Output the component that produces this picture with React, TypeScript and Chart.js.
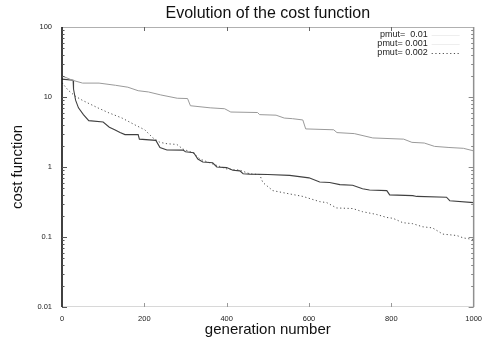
import React, { useEffect, useRef } from "react";
import { Chart, registerables } from "chart.js";

Chart.register(...registerables);

const TITLE = "Evolution of the cost function";
const X_TITLE = "generation number";
const Y_TITLE = "cost function";

const yTickValues = [0.01, 0.1, 1, 10, 100];
const xTickValues = [0, 200, 400, 600, 800, 1000];

const legendLabels = ["pmut=  0.01", "pmut= 0.001", "pmut= 0.002"];

// pmut = 0.01 (upper curve)
const genA = [0, 25, 50, 90, 130, 160, 185, 210, 240, 280, 305, 312, 360, 395, 410, 475, 480, 520, 540, 560, 585, 592, 660, 668, 710, 755, 830, 850, 880, 905, 940, 975, 1000];
const costA = [20, 17.4, 15.8, 15.8, 14.7, 13.8, 12.3, 11.8, 10.7, 9.6, 9.5, 7.5, 7, 6.8, 6.1, 6.0, 5.6, 5.5, 5.0, 4.9, 4.7, 3.5, 3.4, 3.1, 3.0, 2.6, 2.5, 2.25, 2.2, 1.97, 1.9, 1.85, 1.7];

// pmut = 0.001 (middle curve at the end)
const genB = [0, 27, 28, 33, 40, 52, 65, 100, 115, 128, 141, 153, 185, 188, 228, 238, 255, 294, 300, 320, 330, 342, 366, 376, 400, 415, 432, 440, 456, 500, 553, 600, 626, 650, 675, 706, 730, 747, 789, 796, 852, 862, 934, 942, 1000];
const costB = [18, 17.4, 13, 9, 7, 5.6, 4.6, 4.4, 3.7, 3.4, 3.1, 2.9, 2.9, 2.5, 2.4, 1.9, 1.75, 1.74, 1.65, 1.6, 1.3, 1.18, 1.15, 1.0, 0.98, 0.9, 0.88, 0.8, 0.79, 0.78, 0.76, 0.7, 0.61, 0.6, 0.56, 0.55, 0.49, 0.47, 0.46, 0.4, 0.39, 0.38, 0.37, 0.33, 0.31];

// pmut = 0.002 (dotted, lowest at the end)
const genC = [0, 15, 32, 49, 63, 87, 112, 146, 177, 201, 221, 238, 255, 279, 294, 318, 335, 367, 400, 432, 456, 480, 488, 512, 546, 585, 626, 643, 667, 706, 730, 764, 789, 804, 828, 852, 876, 900, 925, 959, 975, 1000];
const costC = [16, 12.5, 10.3, 9, 8.2, 7, 6, 5, 4, 3.4, 2.6, 2.25, 2.15, 2.1, 1.8, 1.6, 1.3, 1.1, 0.94, 0.9, 0.8, 0.78, 0.6, 0.46, 0.42, 0.38, 0.32, 0.31, 0.26, 0.255, 0.23, 0.21, 0.19, 0.185, 0.16, 0.155, 0.14, 0.135, 0.11, 0.105, 0.097, 0.092];

const FONT = "'Liberation Sans', Arial, Helvetica, sans-serif";

const toPoints = (xs: number[], ys: number[]) => xs.map((x, i) => ({ x, y: ys[i] }));

const framePlugin = {
  id: "gnuplotFrame",
  afterDatasetsDraw(chart: any) {
    const { ctx, chartArea: a, scales } = chart;
    const xs = scales.x;
    const ys = scales.y;
    ctx.save();
    // frame
    ctx.lineWidth = 1;
    ctx.strokeStyle = "#b0b0b0";
    ctx.beginPath();
    ctx.moveTo(a.left, a.top + 0.5);
    ctx.lineTo(a.right, a.top + 0.5);
    ctx.stroke();
    ctx.strokeStyle = "#d8d8d8";
    ctx.beginPath();
    ctx.moveTo(a.left, a.bottom - 0.5);
    ctx.lineTo(a.right, a.bottom - 0.5);
    ctx.stroke();
    ctx.strokeStyle = "#909090";
    ctx.lineWidth = 1.5;
    ctx.beginPath();
    ctx.moveTo(a.right, a.top);
    ctx.lineTo(a.right, a.bottom);
    ctx.stroke();
    ctx.strokeStyle = "#111";
    ctx.lineWidth = 1.6;
    ctx.beginPath();
    ctx.moveTo(a.left, a.top);
    ctx.lineTo(a.left, a.bottom);
    ctx.stroke();
    // y ticks (major + minor), left and right, inward
    ctx.lineWidth = 1;
    for (let d = -2; d < 2; d++) {
      for (let m = 1; m <= 9; m++) {
        const v = m * Math.pow(10, d);
        const py = Math.round(ys.getPixelForValue(v)) + 0.5;
        const len = m === 1 ? 5 : 2.5;
        ctx.strokeStyle = "#555";
        ctx.beginPath();
        ctx.moveTo(a.left, py);
        ctx.lineTo(a.left + len, py);
        ctx.stroke();
        ctx.strokeStyle = "#888";
        ctx.beginPath();
        ctx.moveTo(a.right, py);
        ctx.lineTo(a.right - len, py);
        ctx.stroke();
      }
    }
    // x ticks top and bottom
    for (const v of xTickValues.slice(1, -1)) {
      const px = Math.round(xs.getPixelForValue(v)) + 0.5;
      ctx.strokeStyle = "#666";
      ctx.beginPath();
      ctx.moveTo(px, a.top);
      ctx.lineTo(px, a.top + 4);
      ctx.stroke();
      ctx.strokeStyle = "#999";
      ctx.beginPath();
      ctx.moveTo(px, a.bottom);
      ctx.lineTo(px, a.bottom - 4);
      ctx.stroke();
    }
    // legend (gnuplot style: right-justified text, sample after)
    ctx.font = `9px ${FONT}`;
    ctx.textAlign = "right";
    ctx.textBaseline = "middle";
    ctx.fillStyle = "#222";
    const ds = chart.data.datasets;
    legendLabels.forEach((lab, i) => {
      const y = a.top + 8 + i * 9;
      ctx.fillText(lab, a.right - 46, y);
      const d = ds[i];
      ctx.save();
      ctx.strokeStyle = i < 2 ? "#eeeeee" : d.borderColor;
      ctx.lineWidth = 1;
      ctx.setLineDash(d.borderDash || []);
      ctx.beginPath();
      ctx.moveTo(a.right - 42, Math.round(y) + 0.5);
      ctx.lineTo(a.right - 14, Math.round(y) + 0.5);
      ctx.stroke();
      ctx.restore();
    });
    ctx.restore();
  },
};

export default function App() {
  const ref = useRef<HTMLCanvasElement | null>(null);
  useEffect(() => {
    document.body.style.margin = "0";
    if (!ref.current) return;
    const chart = new Chart(ref.current, {
      type: "line",
      data: {
        datasets: [
          {
            label: legendLabels[0],
            data: toPoints(genA, costA),
            borderColor: "#9a9a9a",
            borderWidth: 1,
            pointRadius: 0,
            tension: 0,
          },
          {
            label: legendLabels[1],
            data: toPoints(genB, costB),
            borderColor: "#404040",
            borderWidth: 1.1,
            pointRadius: 0,
            tension: 0,
          },
          {
            label: legendLabels[2],
            data: toPoints(genC, costC),
            borderColor: "#505050",
            borderWidth: 1,
            borderDash: [1.2, 2.5],
            pointRadius: 0,
            tension: 0,
          },
        ],
      },
      options: {
        animation: false,
        responsive: false,
        maintainAspectRatio: false,
        layout: { padding: { left: 0, right: 15, top: 0, bottom: 0 } },
        plugins: {
          legend: { display: false },
          tooltip: { enabled: false },
          title: {
            display: true,
            text: TITLE,
            fullSize: false,
            color: "#111",
            font: { family: FONT, size: 16, weight: "normal" },
            padding: { top: 3.8, bottom: 4 },
          },
        },
        scales: {
          x: {
            type: "linear",
            min: 0,
            max: 1000,
            afterFit: (s: any) => {
              s.height = 34;
            },
            afterBuildTicks: (s: any) => {
              s.ticks = xTickValues.map((v) => ({ value: v }));
            },
            grid: { display: false, drawTicks: false },
            border: { display: false },
            ticks: {
              color: "#222",
              font: { family: FONT, size: 7.5 },
              padding: 7,
              maxRotation: 0,
              autoSkip: false,
              callback: (v: any) => String(v),
            },
            title: {
              display: true,
              text: X_TITLE,
              color: "#111",
              font: { family: FONT, size: 15 },
              padding: { top: 0, bottom: 2 },
            },
          },
          y: {
            type: "logarithmic",
            min: 0.01,
            max: 100,
            afterFit: (s: any) => {
              s.width = 62;
            },
            afterBuildTicks: (s: any) => {
              s.ticks = yTickValues.map((v) => ({ value: v }));
            },
            grid: { display: false, drawTicks: false },
            border: { display: false },
            ticks: {
              color: "#222",
              font: { family: FONT, size: 7.5 },
              padding: 10,
              autoSkip: false,
              callback: (v: any) => String(v),
            },
            title: {
              display: true,
              text: Y_TITLE,
              color: "#111",
              font: { family: FONT, size: 15 },
              padding: { top: 9, bottom: 0 },
            },
          },
        },
      },
      plugins: [framePlugin],
    });
    return () => chart.destroy();
  }, []);
  return (
    <div style={{ width: 489, height: 341, background: "#fff" }}>
      <canvas ref={ref} width={489} height={341} style={{ display: "block" }} />
    </div>
  );
}
